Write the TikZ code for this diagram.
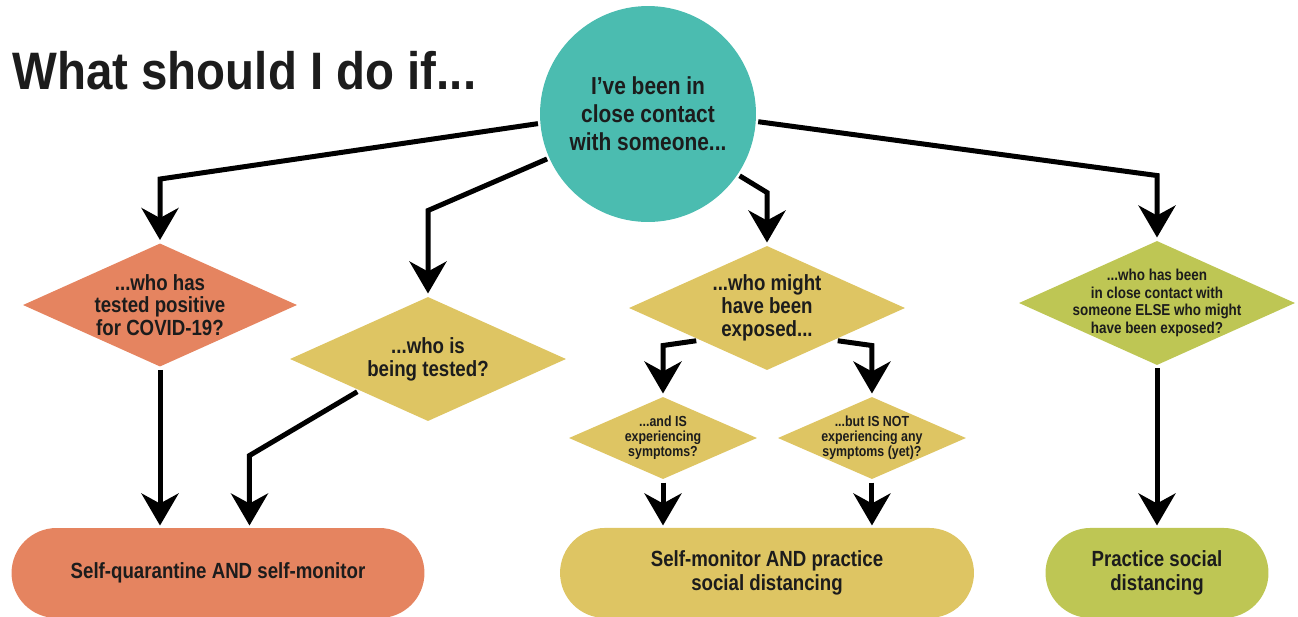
\documentclass[tikz,border=0pt]{standalone}
\usepackage{fontspec}
\newfontfamily\bodyfont{Liberation Sans}[FakeStretch=0.85]
\newfontfamily\titlefont{Liberation Sans}[FakeStretch=0.9]
\usepackage{tikz}
\usetikzlibrary{shapes.geometric}
\usetikzlibrary{positioning}
\usetikzlibrary{arrows.meta}

\definecolor{covteal}{RGB}{75,188,176}
\definecolor{covorange}{RGB}{229,132,96}
\definecolor{covyellow}{RGB}{222,197,99}
\definecolor{covgreen}{RGB}{190,198,84}
\definecolor{inkblack}{RGB}{28,28,28}

\begin{document}
\begin{tikzpicture}[x=0.02cm,y=-0.02cm,>={Stealth[length=0.64cm,width=0.74cm,inset=0.2cm]},
	line width=0.1cm,
	start node/.style={circle,fill=covteal,minimum size=4.32cm,inner sep=0pt,align=center,
		text=inkblack,font=\bodyfont\bfseries\fontsize{14}{16}\selectfont},
	ask node/.style={diamond,aspect=2.2,inner sep=-10pt,minimum width=5.56cm,minimum height=2.52cm,align=center,
		text=inkblack,font=\bodyfont\bfseries\fontsize{12.5}{13}\selectfont},
	small ask/.style={ask node,minimum width=3.8cm,minimum height=1.68cm,
		font=\bodyfont\bfseries\fontsize{8.3}{8.6}\selectfont},
	end node/.style={rectangle,rounded corners=0.9cm,minimum height=1.8cm,align=center,
		text=inkblack,font=\bodyfont\bfseries\fontsize{12.5}{13.6}\selectfont}]
	
	\useasboundingbox (0,0) rectangle (1298,616);
	\clip (0,0) rectangle (1298,616);
	
	\node[anchor=base west,inner sep=0pt,text=inkblack,font=\titlefont\bfseries\fontsize{30}{36}\selectfont] (title) at (10,89) {What should I do if...};
	
	\node[start node] (circ) at (648,114) {I’ve been in\\close contact\\with someone...};
	
	\node[ask node,fill=covorange,minimum width=5.52cm,minimum height=2.5cm] (pos) at (160,305) {...who has\\tested positive\\for COVID-19?};
	\node[ask node,fill=covyellow] (tested) at (428,359) {...who is\\being tested?};
	\node[ask node,fill=covyellow] (exp) at (767,308) {...who might\\have been\\exposed...};
	\node[small ask,fill=covyellow] (symp) at (663,438) {...and IS\\experiencing\\symptoms?};
	\node[small ask,fill=covyellow,node distance=4.18cm] (nosymp) [right of=symp] {...but IS NOT\\experiencing any\\symptoms (yet)?};
	\node[ask node,fill=covgreen,font=\bodyfont\bfseries\fontsize{9}{10}\selectfont] (else) at (1157,303) {...who has been\\in close contact with\\someone ELSE who might\\have been exposed?};
	
	\node[end node,fill=covorange,minimum width=8.26cm] (quar) at (218,573) {Self-quarantine AND self-monitor};
	\node[end node,fill=covyellow,minimum width=8.28cm,node distance=5.3cm] (mon) [below of=exp] {Self-monitor AND practice\\social distancing};
	\node[end node,fill=covgreen,minimum width=4.46cm,node distance=5.4cm] (dist) [below of=else] {Practice social\\distancing};
	
	\draw[->] (circ.185) -- ([yshift=1.22cm]pos.north) -- (pos.north);
	\draw[->] (circ.204) -- ([yshift=1.66cm]tested.north) -- (tested.north);
	\draw[->] (circ.326) -- ([yshift=1.0cm]exp.north) -- (exp.north);
	\draw[->] (circ.356) -- ([yshift=1.24cm]else.north) -- (else.north);
	\draw[->] (pos.south) -- (pos.south |- quar.north);
	\draw[->] (tested.south west) -- ([xshift=0.63cm,yshift=1.4cm]quar.north) -- ([xshift=0.63cm]quar.north);
	\draw[->] (exp.south west) -- ([yshift=0.96cm]symp.north) -- (symp.north);
	\draw[->] (exp.south east) -- ([yshift=0.96cm]nosymp.north) -- (nosymp.north);
	\draw[->] (symp.south) -- (symp.south |- mon.north);
	\draw[->] (nosymp.south) -- (nosymp.south |- mon.north);
	\draw[->] (else.south) -- (dist.north);
\end{tikzpicture}
\end{document}
